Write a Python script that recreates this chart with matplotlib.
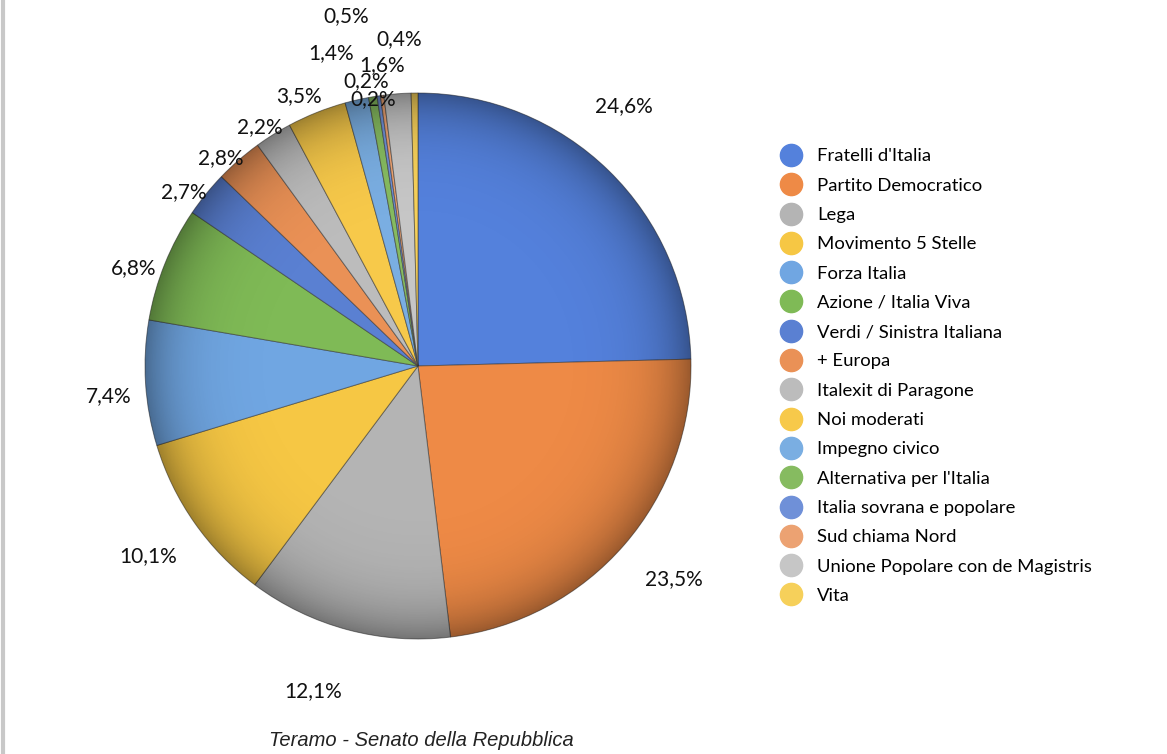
import numpy as np
import matplotlib.pyplot as plt
from matplotlib.lines import Line2D
from matplotlib.patches import Circle

parties = ["Fratelli d'Italia", "Partito Democratico", "Lega", "Movimento 5 Stelle",
           "Forza Italia", "Azione / Italia Viva", "Verdi / Sinistra Italiana", "+ Europa",
           "Italexit di Paragone", "Noi moderati", "Impegno civico", "Alternativa per l'Italia",
           "Italia sovrana e popolare", "Sud chiama Nord", "Unione Popolare con de Magistris", "Vita"]
shares = [24.6, 23.5, 12.1, 10.1, 7.4, 6.8, 2.7, 2.8, 2.2, 3.5, 1.4, 0.5, 0.2, 0.2, 1.6, 0.4]
title = "Teramo - Senato della Repubblica"

colors = ["#5481dc", "#ee8a46", "#b4b4b4", "#f6c744", "#70a6e2", "#7fba56", "#5a80d2", "#ea9156",
          "#bcbcbc", "#f7c94a", "#7aaee2", "#86bb60", "#6f90d8", "#eca272", "#c6c6c6", "#f6d05a"]

# label placement: distance from centre (in radii) and angle nudge (degrees)
label_dist = [1.215, 1.22, 1.25, 1.21, 1.14, 1.10, 1.07, 1.05, 1.05, 1.08, 1.19, 1.31, 1.06, 0.99, 1.11, 1.20]
label_nudge = [6, 1, -3, 0, 2, 3, 2.5, 2.5, 1.5, 2, 2.5, 2, 2, 2, 2.5, 2.5]

W, H = 1167, 754
cx, cy, R = 418, 366, 273

fig = plt.figure(figsize=(W / 100, H / 100), dpi=100)
ax = fig.add_axes([0, 0, 1, 1])

wedges, _ = ax.pie(shares, colors=colors, startangle=90, counterclock=False,
                   wedgeprops=dict(edgecolor=(0.2, 0.2, 0.2, 0.55), linewidth=0.7))

# darker rim for a bit of a 3d look
yy, xx = np.mgrid[-1:1:400j, -1:1:400j]
rr = np.sqrt(xx ** 2 + yy ** 2)
shade = np.zeros((400, 400, 4))
shade[..., 3] = np.clip(rr, 0, 1) ** 8 * 0.35
img = ax.imshow(shade, extent=(-1, 1, -1, 1), zorder=3)
img.set_clip_path(Circle((0, 0), 1, transform=ax.transData))
ax.set_xlim(-cx / R, (W - cx) / R)
ax.set_ylim((cy - H) / R, cy / R)
ax.axis("off")

total = sum(shares)
cum = 0
for i, v in enumerate(shares):
    mid = 90 - (cum + v / 2) / total * 360
    cum += v
    a = np.deg2rad(mid + label_nudge[i])
    d = label_dist[i]
    ax.text(d * np.cos(a), d * np.sin(a), f"{v:.1f}%".replace(".", ","),
            ha="center", va="center", fontsize=15, family="Lato", color="#111111", zorder=5)

handles = [Line2D([], [], marker="o", linestyle="none", markersize=16,
                  markerfacecolor=c, markeredgecolor=c) for c in colors]
fig.legend(handles, parties, loc="upper left", bbox_to_anchor=(0.656, 0.813),
           frameon=False, prop=dict(family="Lato", size=13.3), labelspacing=0.72,
           handletextpad=0.4, borderaxespad=0)

fig.text(421 / W, 1 - 740 / H, title, ha="center", va="center", fontsize=14.5,
         style="italic", family="Liberation Sans", color="#222222")

fig.add_artist(Line2D([3 / W, 3 / W], [0, 1], color="#c8c8c8", lw=3, transform=fig.transFigure))

fig.savefig("out.png", dpi=100)
